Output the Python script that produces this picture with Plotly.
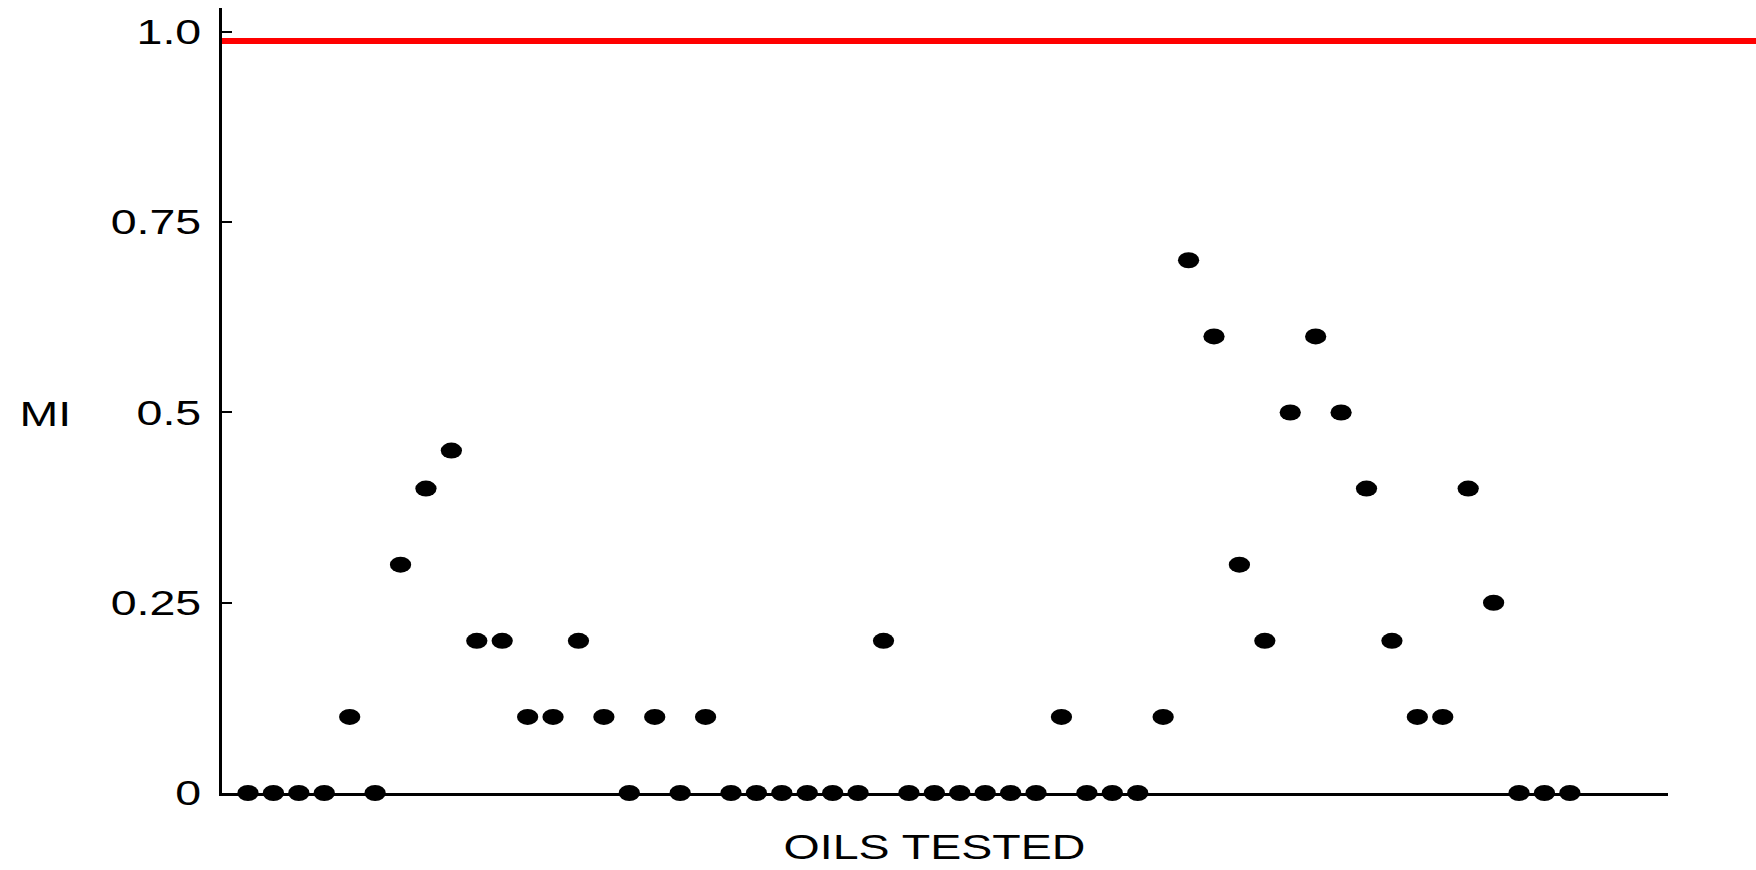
import plotly.graph_objects as go

# MI measured for each oil, in test order
oil_index = list(range(1, 54))
mi_values = [
    0, 0, 0, 0, 0.1, 0, 0.3, 0.4, 0.45, 0.2,
    0.2, 0.1, 0.1, 0.2, 0.1, 0, 0.1, 0, 0.1, 0,
    0, 0, 0, 0, 0, 0.2, 0, 0, 0, 0,
    0, 0, 0.1, 0, 0, 0, 0.1, 0.7, 0.6, 0.3,
    0.2, 0.5, 0.6, 0.5, 0.4, 0.2, 0.1, 0.1, 0.4, 0.25,
    0, 0, 0,
]
threshold = 0.988

y_tickvals = [0, 0.25, 0.5, 0.75, 1.0]
y_ticktext = ["0", "0.25", "0.5", "0.75", "1.0"]

W, H = 1756, 870
M_L, M_R, M_T, M_B = 222, 88, 8, 77
plot_w = W - M_L - M_R
plot_h = H - M_T - M_B

FONT = "Liberation Sans, Arial, Helvetica, sans-serif"

fig = go.Figure()
fig.add_trace(go.Scatter(
    x=oil_index,
    y=mi_values,
    mode="markers",
    marker=dict(color="black", size=16, line=dict(width=0)),
    cliponaxis=False,
    showlegend=False,
    hoverinfo="x+y",
))

# threshold line runs from the y axis to the right edge of the page
fig.add_shape(
    type="line", xref="paper", yref="y",
    x0=0, x1=1 + M_R / plot_w, y0=threshold, y1=threshold,
    line=dict(color="#ff0000", width=6),
    layer="above",
)

fig.add_annotation(
    text="MI", xref="paper", yref="paper",
    x=(45 - M_L) / plot_w, y=(H - M_B - 413) / plot_h,
    xanchor="center", yanchor="middle", showarrow=False,
    font=dict(family=FONT, size=35, color="black"),
)
fig.add_annotation(
    text="OILS TESTED", xref="paper", yref="paper",
    x=(934 - M_L) / plot_w, y=(H - M_B - 846) / plot_h,
    xanchor="center", yanchor="middle", showarrow=False,
    borderpad=0,
    font=dict(family=FONT, size=35, color="black"),
)

fig.update_layout(
    width=W, height=H,
    margin=dict(l=M_L, r=M_R, t=M_T, b=M_B, pad=0),
    paper_bgcolor="white", plot_bgcolor="white",
    font=dict(family=FONT, size=35, color="black"),
    xaxis=dict(
        range=[-0.023, 56.86],
        showgrid=False, zeroline=False,
        showline=True, linecolor="black", linewidth=2.5,
        ticks="", showticklabels=False,
    ),
    yaxis=dict(
        range=[0, 1.0315],
        showgrid=False, zeroline=False,
        showline=True, linecolor="black", linewidth=2.5,
        ticks="inside", ticklen=10, tickwidth=2, tickcolor="black",
        tickvals=y_tickvals, ticktext=y_ticktext,
        ticklabelstandoff=11,
        tickfont=dict(family=FONT, size=35, color="black"),
    ),
)

# widen text glyphs and dots horizontally to the page's stretched proportions
post = """
var gd = document.getElementById('{plot_id}');
var sx = 1.33;
gd.querySelectorAll('text').forEach(function(t){
  var b = t.getBBox();
  var a = t.getAttribute('text-anchor') || window.getComputedStyle(t).textAnchor || 'start';
  var fx = a === 'end' ? b.x + b.width : (a === 'middle' ? b.x + b.width / 2 : b.x);
  var tr = t.getAttribute('transform') || '';
  t.setAttribute('transform', tr + ' translate(' + fx + ',0) scale(' + sx + ',1) translate(' + (-fx) + ',0)');
});
gd.querySelectorAll('path.point').forEach(function(p){
  var tr = p.getAttribute('transform') || '';
  p.setAttribute('transform', tr + ' scale(' + sx + ',1)');
});
"""

fig.write_html("out.html", post_script=post, config={"displayModeBar": False})
